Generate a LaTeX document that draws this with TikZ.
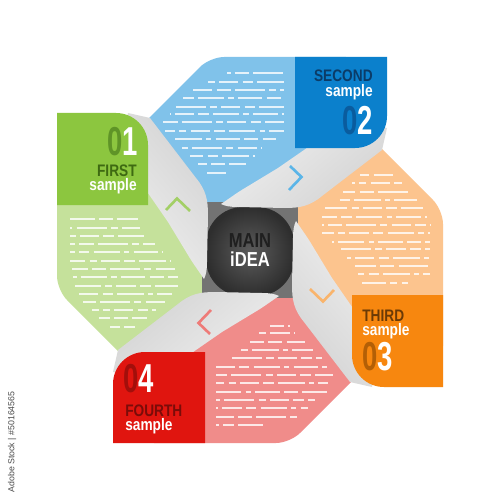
\documentclass[tikz,border=0pt]{standalone}
\usepackage{fontspec}
\newfontfamily\condf{Liberation Sans}[FakeStretch=0.82]
\newfontfamily\digf{Liberation Sans}[FakeStretch=0.68]
\newfontfamily\plainf{Liberation Sans}
\definecolor{lgreen}{HTML}{C5E19B}
\definecolor{tgreen}{HTML}{8CC63F}
\definecolor{cgreen}{HTML}{A3CF66}
\definecolor{dgreen}{HTML}{3E6A12}
\definecolor{zgreen}{HTML}{5F9427}
\definecolor{lblue}{HTML}{80C2EA}
\definecolor{tblue}{HTML}{0B80CC}
\definecolor{cblue}{HTML}{5BB5E8}
\definecolor{dblue}{HTML}{0B3C68}
\definecolor{zblue}{HTML}{0A5C9E}
\definecolor{lorange}{HTML}{FCC48E}
\definecolor{torange}{HTML}{F7870F}
\definecolor{corange}{HTML}{F9B46C}
\definecolor{dorange}{HTML}{6B3A06}
\definecolor{zorange}{HTML}{B35F06}
\definecolor{lred}{HTML}{F08C8A}
\definecolor{tred}{HTML}{E0150F}
\definecolor{cred}{HTML}{EE7B78}
\definecolor{dred}{HTML}{7A0C09}
\definecolor{zred}{HTML}{A30F0B}
\tikzset{
  txtrow/.style={white, opacity=0.8, line width=1.5pt,
    dash pattern=on 14pt off 2.4pt on 8pt off 2.4pt on 17pt off 2.4pt on 4pt off 2.4pt on 11pt off 2.4pt on 6pt off 2.4pt on 15pt off 2.4pt on 3pt off 2.4pt},
  digits/.style={inner sep=0, font=\digf\bfseries\fontsize{23}{23}\selectfont},
  label/.style={inner sep=0, font=\condf\bfseries\fontsize{9.5}{10}\selectfont},
  smp/.style={inner sep=0, text=white, font=\condf\bfseries\fontsize{9.5}{10}\selectfont},
  chev/.style={line width=1.5pt},
}
\newcommand\trow[4]{\draw[txtrow, dash phase=#4pt] (#1,#3) -- (#2,#3);}
\begin{document}
\begin{tikzpicture}[x=0.02cm,y=-0.02cm]
\useasboundingbox (0,0) rectangle (500,500);
\fill[white] (0,0) rectangle (500,500);
% sheets
\foreach \ang/\col in {0/lgreen,-90/lblue,-180/lorange,-270/lred}{
  \begin{scope}[rotate around={\ang:(250,250)}]
    \fill[\col, rounded corners=8pt] (57,140) -- (57,290) -- (135,368) -- (185,368) -- (210,295) -- (205,205) -- (150,150) -- cycle;
  \end{scope}
}
% text rows: green
\trow{70}{138}{219}{0}
\trow{70}{140}{228}{23}
\trow{70}{147}{236}{47}
\trow{70}{155}{244}{11}
\trow{70}{163}{252}{61}
\trow{70}{171}{261}{35}
\trow{72}{178}{269}{5}
\trow{73}{178}{277}{70}
\trow{75}{178}{286}{29}
\trow{78}{172}{294}{52}
\trow{83}{165}{302}{17}
\trow{92}{156}{310}{40}
\trow{99}{147}{318}{8}
\trow{110}{137}{327}{58}
% blue
\trow{227}{284}{73}{12}
\trow{204}{284}{82}{44}
\trow{193}{284}{90}{3}
\trow{183}{284}{98}{66}
\trow{176}{284}{107}{27}
\trow{170}{284}{114}{50}
\trow{161}{284}{122}{15}
\trow{165}{284}{131}{38}
\trow{173}{276}{139}{73}
\trow{182}{262}{148}{21}
\trow{190}{255}{156}{56}
\trow{198}{246}{164}{9}
\trow{207}{230}{173}{33}
% orange
\trow{360}{393}{175}{19}
\trow{352}{402}{183}{42}
\trow{343}{409}{192}{7}
\trow{336}{417}{200}{64}
\trow{325}{423}{208}{31}
\trow{322}{427}{217}{55}
\trow{322}{430}{225}{13}
\trow{322}{430}{233}{37}
\trow{332}{430}{242}{71}
\trow{338}{430}{249}{25}
\trow{347}{430}{258}{48}
\trow{355}{430}{266}{2}
\trow{358}{430}{274}{60}
\trow{362}{408}{283}{30}
% red
\trow{266}{290}{326}{14}
\trow{257}{295}{333}{45}
\trow{250}{305}{342}{6}
\trow{241}{313}{350}{68}
\trow{231}{322}{358}{26}
\trow{216}{327}{367}{53}
\trow{216}{333}{375}{18}
\trow{216}{328}{383}{39}
\trow{216}{327}{392}{75}
\trow{216}{315}{400}{22}
\trow{216}{308}{408}{49}
\trow{216}{297}{417}{4}
\trow{216}{263}{425}{62}
% centre
\fill[black!55] (202,202) rectangle (298,298);
\shade[inner color=black!64, outer color=black!82, rounded corners=21pt] (206,207) rectangle (294,296);
\node[inner sep=0, anchor=base, text=black!88, font=\condf\bfseries\fontsize{11.5}{12}\selectfont] (main) at (250,247) {MAIN};
\node[inner sep=0, anchor=base, text=white, font=\condf\bfseries\fontsize{11.5}{12}\selectfont] (idea) at (250,266) {iDEA};
% ribbons
\foreach \ang/\col in {0/cgreen,-90/cblue,-180/corange,-270/cred}{
  \pgfmathsetmacro\sa{-50+\ang}
  \begin{scope}[rotate around={\ang:(250,250)}]
    \shade[top color=black!17, middle color=white, bottom color=black!6, shading angle=\sa]
      (128,113) -- (150,118) -- (196,178) .. controls (206,190) and (208,200) .. (208,215) -- (207,262)
      .. controls (207,270) and (206,275) .. (204,279) .. controls (198,270) and (192,262) .. (188,255)
      -- (168,222) -- (150,196) -- (140,182) -- (120,150) -- cycle;
    \draw[chev, \col] (166,210) -- (177,198.5) -- (190,211);
  \end{scope}
}
% tabs
\foreach \ang/\col in {0/tgreen,-90/tblue,-180/torange,-270/tred}{
  \begin{scope}[rotate around={\ang:(250,250)}]
    \fill[\col] (57,205) -- (57,113) -- (116,113) .. controls (133.7,113) and (148,127.3) .. (148,145) -- (148,205) -- cycle;
  \end{scope}
}
% tab texts
\node[digits, anchor=base east] (n1) at (138,155) {\textcolor{zgreen}{0}\textcolor{white}{1}};
\node[label, anchor=base east, text=dgreen] (l1) at (137,176) {FIRST};
\node[smp, anchor=base east] (s1) at (137,190) {sample};
\node[label, anchor=base east, text=dblue] (l2) at (373,82) {SECOND};
\node[smp, anchor=base east] (s2) at (373,96) {sample};
\node[digits, anchor=base east] (n2) at (373,134) {\textcolor{zblue}{0}\textcolor{white}{2}};
\node[label, anchor=base west, text=dorange] (l3) at (362,321) {THIRD};
\node[smp, anchor=base west] (s3) at (362,335) {sample};
\node[digits, anchor=base west] (n3) at (362,370) {\textcolor{zorange}{0}\textcolor{white}{3}};
\node[digits, anchor=base west] (n4) at (123,392) {\textcolor{zred}{0}\textcolor{white}{4}};
\node[label, anchor=base west, text=dred] (l4) at (125,416) {FOURTH};
\node[smp, anchor=base west] (s4) at (125,430) {sample};
% stock id
\node[inner sep=0, rotate=90, text=black!70, font=\plainf\fontsize{5}{5}\selectfont] (sid) at (12,442) {Adobe Stock | \#50164565};
\end{tikzpicture}
\end{document}
